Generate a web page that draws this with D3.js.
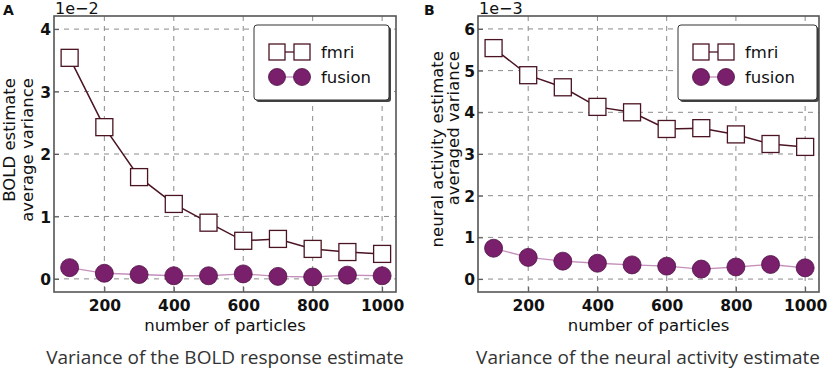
<!DOCTYPE html>
<html>
<head>
<meta charset="utf-8">
<script src="https://cdn.jsdelivr.net/npm/d3@7"></script>
<style>
  body { margin: 0; background: #fff; }
  svg { display: block; font-family: "DejaVu Sans", sans-serif; }
</style>
</head>
<body>
<svg id="chart" width="827" height="372"></svg>
<script>
// ---- data ----
const particles = [100, 200, 300, 400, 500, 600, 700, 800, 900, 1000];
const xTicks = [200, 400, 600, 800, 1000];

// panel A: BOLD (x 1e-2)
const boldFmri   = [3.54, 2.43, 1.63, 1.20, 0.90, 0.61, 0.64, 0.48, 0.43, 0.40];
const boldFusion = [0.18, 0.09, 0.07, 0.05, 0.05, 0.08, 0.04, 0.03, 0.06, 0.05];
const boldTicks  = [0, 1, 2, 3, 4];

// panel B: neural activity (x 1e-3)
const neuralFmri   = [5.54, 4.89, 4.60, 4.13, 4.00, 3.60, 3.62, 3.47, 3.24, 3.17];
const neuralFusion = [0.74, 0.52, 0.43, 0.38, 0.34, 0.31, 0.24, 0.29, 0.35, 0.27];
const neuralTicks  = [0, 1, 2, 3, 4, 5, 6];

const seriesNames = ['fmri', 'fusion'];

// ---- styles ----
const FMRI_LINE = '#4b1422';
const FUSION_FILL = '#7a1f6c';
const FUSION_EDGE = '#4e1244';
const FUSION_LINE = '#c58fbc';

const svg = d3.select('#chart');

const panels = [
  {
    letter: 'A', letterX: 3, left: 54, right: 396, top: 16, bottom: 292,
    yDomain: [-0.21, 4.21], yTicks: boldTicks, offset: '1e\u22122',
    fmri: boldFmri, fusion: boldFusion,
    ylab: ['BOLD estimate', 'average variance'], ylabX: [15, 33], ylabTop: 78,
    caption: 'Variance of the BOLD response estimate', capX: 225,
    legend: { x: 254, y: 25, w: 135, h: 75 }
  },
  {
    letter: 'B', letterX: 424, left: 478, right: 819, top: 16, bottom: 292,
    yDomain: [-0.31, 6.31], yTicks: neuralTicks, offset: '1e\u22123',
    fmri: neuralFmri, fusion: neuralFusion,
    ylab: ['neural activity estimate', 'averaged variance'], ylabX: [443, 459], ylabTop: 51,
    caption: 'Variance of the neural activity estimate', capX: 648,
    legend: { x: 678, y: 25, w: 139, h: 75 }
  }
];

panels.forEach(p => {
  const g = svg.append('g');
  const x = d3.scaleLinear().domain([55, 1040]).range([p.left, p.right]);
  const y = d3.scaleLinear().domain(p.yDomain).range([p.bottom, p.top]);

  // grid
  g.selectAll('.vgrid').data(xTicks).join('line')
    .attr('x1', d => x(d)).attr('x2', d => x(d))
    .attr('y1', p.top).attr('y2', p.bottom)
    .attr('stroke', '#8a8a8a').attr('stroke-width', 1)
    .attr('stroke-dasharray', '5,5');
  g.selectAll('.hgrid').data(p.yTicks).join('line')
    .attr('x1', p.left).attr('x2', p.right)
    .attr('y1', d => y(d)).attr('y2', d => y(d))
    .attr('stroke', '#8a8a8a').attr('stroke-width', 1)
    .attr('stroke-dasharray', '5,5');

  // axes
  const xAxis = g.append('g').attr('transform', `translate(0,${p.bottom})`)
    .call(d3.axisBottom(x).tickValues(xTicks).tickFormat(d3.format('d'))
      .tickSize(-5).tickPadding(8));
  const yAxis = g.append('g').attr('transform', `translate(${p.left},0)`)
    .call(d3.axisLeft(y).tickValues(p.yTicks).tickFormat(d3.format('d'))
      .tickSize(-5).tickPadding(3));
  [xAxis, yAxis].forEach(a => {
    a.attr('font-family', null).attr('font-size', null);
    a.select('.domain').remove();
    a.selectAll('line').attr('stroke', '#555');
    a.selectAll('text').attr('fill', '#111')
      .style('font-family', '"DejaVu Sans", sans-serif')
      .style('font-weight', 'bold')
      .style('font-size', '15.5px');
  });
  yAxis.selectAll('text').attr('dy', '0.36em');

  // frame
  g.append('rect')
    .attr('x', p.left).attr('y', p.top)
    .attr('width', p.right - p.left).attr('height', p.bottom - p.top)
    .attr('fill', 'none').attr('stroke', '#555').attr('stroke-width', 1.6);

  // lines
  const line = d3.line().x((d, i) => x(particles[i])).y(d => y(d));
  g.append('path').datum(p.fusion).attr('d', line)
    .attr('fill', 'none').attr('stroke', FUSION_LINE).attr('stroke-width', 1.3);
  g.append('path').datum(p.fmri).attr('d', line)
    .attr('fill', 'none').attr('stroke', FMRI_LINE).attr('stroke-width', 1.5);

  // markers
  const S = 17;
  g.selectAll('.sq').data(p.fmri).join('rect')
    .attr('x', (d, i) => x(particles[i]) - S / 2)
    .attr('y', d => y(d) - S / 2)
    .attr('width', S).attr('height', S)
    .attr('fill', '#fff').attr('stroke', FMRI_LINE).attr('stroke-width', 1.3);
  g.selectAll('.ci').data(p.fusion).join('circle')
    .attr('cx', (d, i) => x(particles[i]))
    .attr('cy', d => y(d))
    .attr('r', 9)
    .attr('fill', FUSION_FILL).attr('stroke', FUSION_EDGE).attr('stroke-width', 0.8);

  // offset text
  g.append('text').attr('x', p.left + 1).attr('y', 14)
    .attr('font-size', 16).attr('fill', '#111').text(p.offset);
  // panel letter
  g.append('text').attr('x', p.letterX).attr('y', 15)
    .attr('font-size', 14).attr('font-weight', 'bold').attr('fill', '#111').text(p.letter);

  // axis labels
  g.append('text')
    .attr('x', (p.left + p.right) / 2).attr('y', 331)
    .attr('text-anchor', 'middle').attr('font-size', 16.5).attr('fill', '#111')
    .text('number of particles');
  p.ylab.forEach((t, i) => {
    g.append('text')
      .attr('transform', `translate(${p.ylabX[i]},${p.ylabTop}) rotate(-90)`)
      .attr('text-anchor', 'end').attr('font-size', 16.5).attr('fill', '#111')
      .text(t);
  });

  // caption
  g.append('text')
    .attr('x', p.capX).attr('y', 364)
    .attr('text-anchor', 'middle')
    .style('font-family', '"Open Sans", sans-serif')
    .attr('font-size', 19).attr('fill', '#333')
    .text(p.caption);

  // legend
  const L = p.legend;
  g.append('rect').attr('x', L.x + 2).attr('y', L.y + 2)
    .attr('width', L.w).attr('height', L.h).attr('rx', 3)
    .attr('fill', '#444');
  g.append('rect').attr('x', L.x).attr('y', L.y)
    .attr('width', L.w).attr('height', L.h).attr('rx', 3)
    .attr('fill', '#fff').attr('stroke', '#333').attr('stroke-width', 1);
  const lx0 = L.x + 23, lx1 = L.x + 48;
  seriesNames.forEach((name, i) => {
    const ly = L.y + 27 + i * 25;
    g.append('line').attr('x1', lx0).attr('x2', lx1).attr('y1', ly).attr('y2', ly)
      .attr('stroke', i === 0 ? FMRI_LINE : FUSION_LINE).attr('stroke-width', 1.3);
    [lx0, lx1].forEach(cx => {
      if (i === 0) {
        g.append('rect').attr('x', cx - 8).attr('y', ly - 8)
          .attr('width', 16).attr('height', 16)
          .attr('fill', '#fff').attr('stroke', FMRI_LINE).attr('stroke-width', 1.3);
      } else {
        g.append('circle').attr('cx', cx).attr('cy', ly).attr('r', 8.5)
          .attr('fill', FUSION_FILL).attr('stroke', FUSION_EDGE).attr('stroke-width', 0.8);
      }
    });
    g.append('text').attr('x', L.x + 67).attr('y', ly + 6)
      .attr('font-size', 16.5).attr('fill', '#111').text(name);
  });
});
</script>
</body>
</html>
